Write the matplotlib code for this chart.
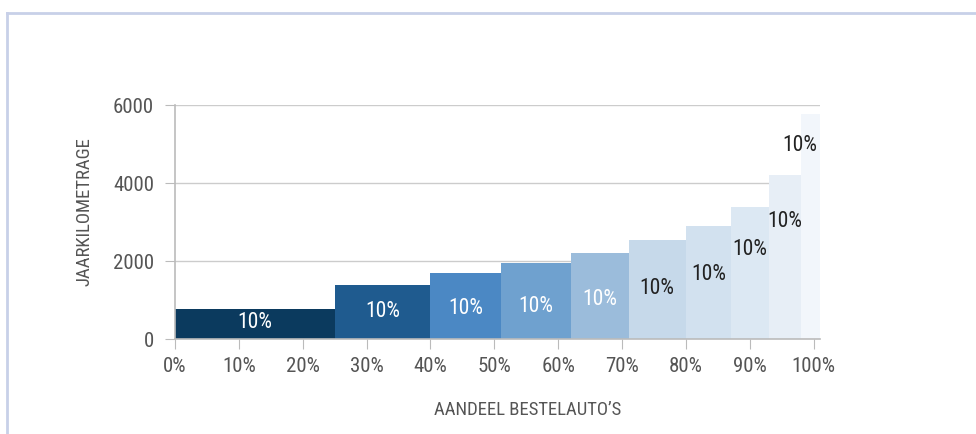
import matplotlib.pyplot as plt
from matplotlib.lines import Line2D

plt.rcParams['font.family'] = ['Roboto Condensed', 'Open Sans Condensed',
                               'Liberation Sans Narrow', 'DejaVu Sans']

# aandeel (breedte, in %) en jaarkilometrage per groep
widths = [25, 15, 11, 11, 9, 9, 7, 6, 5, 3]
heights = [780, 1400, 1700, 1950, 2200, 2550, 2900, 3400, 4200, 5780]
labels = ['10%'] * 10
label_y = [420, 720, 780, 830, 1030, 1290, 1670, 2310, 3030, 4960]
label_dx = [0, 0, 0, 0, 0, 0, 0, 0, 0, -1.7]

colors = ['#0b3a5e', '#1f5b8f', '#4b88c4', '#6fa1cf', '#9bbcdb',
          '#c6d9ea', '#d2e1ef', '#dce8f3', '#e7eef6', '#f2f6fb']
text_colors = ['white'] * 5 + ['#222222'] * 5

x_ticks = list(range(0, 101, 10))
y_ticks = [0, 2000, 4000, 6000]

fig = plt.figure(figsize=(9.76, 4.34), dpi=100)
ax = fig.add_axes([0.1793, 0.2182, 0.661, 0.5392])

lefts = [sum(widths[:i]) for i in range(len(widths))]
ax.bar(lefts, heights, width=widths, align='edge', color=colors, zorder=2)

for i in range(len(widths)):
    ax.text(lefts[i] + widths[i] / 2 + label_dx[i], label_y[i], labels[i],
            ha='center', va='center', fontsize=15.5, color=text_colors[i], zorder=3)

ax.set_xlim(0, 101)
ax.set_ylim(0, 6000)
ax.set_xticks(x_ticks)
ax.set_xticklabels([f'{t}%' for t in x_ticks])
ax.set_yticks(y_ticks)
ax.grid(axis='y', color='#cccccc', linewidth=1, zorder=0)
ax.tick_params(colors='#bbbbbb', labelcolor='#555555', labelsize=15, length=7)
ax.tick_params(axis='x', pad=6)
ax.tick_params(axis='y', pad=8)

for s in ['top', 'right']:
    ax.spines[s].set_visible(False)
for s in ['left', 'bottom']:
    ax.spines[s].set_color('#bbbbbb')
    ax.spines[s].set_linewidth(1.2)

ax.set_xlabel('AANDEEL BESTELAUTO\u2019S', fontsize=13.5, color='#555555', va='center')
ax.set_ylabel('JAARKILOMETRAGE', fontsize=13.5, color='#555555', va='center')
ax.xaxis.set_label_coords(0.547, -0.302)
ax.yaxis.set_label_coords(-0.14, 0.544)

# kader rond de figuur
fig.add_artist(Line2D([0.0068, 1.0], [0.971, 0.971], color='#c8d0e8', linewidth=2))
fig.add_artist(Line2D([0.0068, 0.0068], [0.0, 0.971], color='#c8d0e8', linewidth=2))

fig.savefig('out.png', dpi=100)
